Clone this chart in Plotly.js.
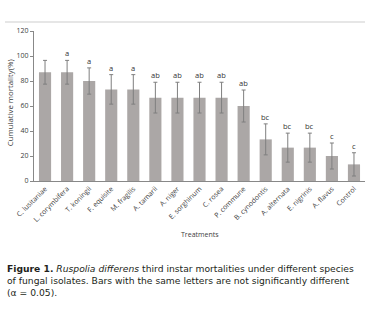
<!DOCTYPE html>
<html>
<head>
<meta charset="utf-8">
<script src="https://cdn.plot.ly/plotly-3.0.1.min.js"></script>
<style>
html,body{margin:0;padding:0;background:#fff;}
#chart{width:371px;height:311px;}
</style>
</head>
<body>
<div id="chart"></div>
<script>
const treatments = ["C. lusitaniae","L. corymbifera","T. koningii","F. equisite","M. fragilis","A. tamarii","A. niger","E. sorghinum","C. rosea","P. commune","B. cynodontis","A. alternata","E. nigrinis","A. flavus","Control"];
const mortality = [87, 87, 80, 73.3, 73.3, 66.7, 66.7, 66.7, 66.7, 60, 33.3, 26.7, 26.7, 20, 13.3];
const errors = [9.5, 9.5, 10.5, 11.8, 11.8, 12.3, 12.3, 12.3, 12.3, 12.8, 12.4, 11.6, 11.6, 10.4, 9.3];
const letters = ["", "a", "a", "a", "a", "ab", "ab", "ab", "ab", "ab", "bc", "bc", "bc", "c", "c"];
const yTicks = [0, 20, 40, 60, 80, 100, 120];

const tickFont = {family: "Open Sans, Arial, sans-serif", size: 7, color: "#404040"};

const trace = {
  type: "bar",
  x: treatments,
  y: mortality,
  marker: {color: "#aba7a6"},
  error_y: {type: "data", array: errors, visible: true, color: "#7f7f7f", thickness: 1, width: 2},
  hoverinfo: "x+y"
};

const annotations = [];
treatments.forEach((t, i) => {
  if (letters[i]) {
    annotations.push({
      x: t, y: mortality[i] + errors[i], xref: "x", yref: "y",
      text: letters[i], showarrow: false, yanchor: "bottom", yshift: 0,
      font: {family: "Open Sans, Arial, sans-serif", size: 7.5, color: "#333"}
    });
  }
});
annotations.push({
  x: 0.5, y: -0.357, xref: "paper", yref: "paper", text: "Treatments",
  showarrow: false, xanchor: "center", yanchor: "middle",
  font: {family: "Open Sans, Arial, sans-serif", size: 7, color: "#404040"}
});
annotations.push({
  x: -0.072, y: 0.52, xref: "paper", yref: "paper", text: "Cumulative mortality(%)",
  showarrow: false, xanchor: "center", yanchor: "middle", textangle: -90,
  font: {family: "Open Sans, Arial, sans-serif", size: 7.8, color: "#404040"}
});
const capFont = {family: "DejaVu Sans, sans-serif", size: 9.2, color: "#231f20"};
const caption = [
  "<b>Figure 1.</b> <i>Ruspolia differens</i> third instar mortalities under different species",
  "of fungal isolates. Bars with the same letters are not significantly different",
  "(α = 0.05)."
].join("<br>");
annotations.push({
  x: -0.0876, y: -0.666, xref: "paper", yref: "paper", text: caption,
  showarrow: false, xanchor: "left", yanchor: "middle", align: "left", font: capFont
});

const layout = {
  width: 371, height: 311,
  margin: {l: 34, r: 6, t: 31, b: 130, pad: 0},
  paper_bgcolor: "#fff", plot_bgcolor: "#fff",
  showlegend: false,
  bargap: 0.45,
  xaxis: {
    tickangle: -45, tickfont: tickFont, showline: true, linecolor: "#888", linewidth: 1,
    ticks: "", showgrid: false, zeroline: false, automargin: false
  },
  yaxis: {
    range: [0, 120], tickvals: yTicks, tickfont: tickFont, showline: true, linecolor: "#888",
    linewidth: 1, ticks: "outside", ticklen: 3, tickcolor: "#888", showgrid: false,
    zeroline: false, automargin: false
  },
  annotations: annotations,
  shapes: [{
    type: "line", xref: "paper", yref: "paper", x0: -0.0876, x1: 1.0, y0: 1.06, y1: 1.06,
    line: {color: "#e6e6e6", width: 2}
  }]
};

Plotly.newPlot("chart", [trace], layout, {displayModeBar: false, staticPlot: true});
</script>
</body>
</html>
